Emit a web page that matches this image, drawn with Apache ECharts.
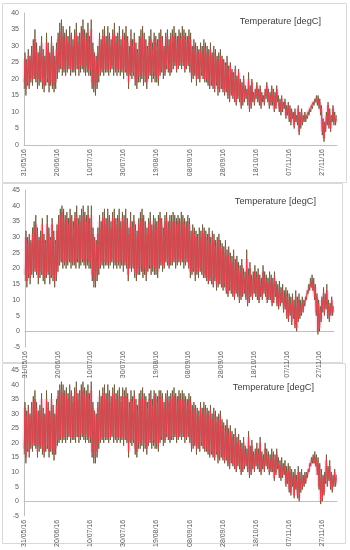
<!DOCTYPE html>
<html><head><meta charset="utf-8">
<script src="https://cdn.jsdelivr.net/npm/echarts@6/dist/echarts.min.js"></script>
<style>html,body{margin:0;padding:0;background:#fff}#c{width:350px;height:550px}</style>
</head><body><div id="c"></div>
<script>
// Day index 0 = 31/05/16; daily maximum / minimum temperatures [degC]
const startDate = [2016, 4, 31];
const xTicks = [0,20,40,60,80,100,120,140,160,180];
const titleText = 'Temperature [degC]';

// Panel 1 (observed, dark)
const p1Max = [28,26,29,27,30,32,35,31,28,30, 33,29,27,34,31,28,33,30,27,31, 34,37,38,36,34,35,33,36,34,32, 35,37,33,34,36,38,35,34,37,33, 38,31,28,27,30,34,32,35,36,33, 36,34,32,35,37,33,34,36,32,35, 34,36,33,30,35,32,34,31,29,33, 35,36,34,32,30,33,35,31,34,33, 32,34,35,33,30,34,35,32,34,35, 36,34,33,35,34,36,35,34,33,35, 34,30,32,31,30,29,31,30,32,31, 30,29,31,28,30,29,27,28,29,27, 26,25,27,24,25,23,22,24,21,23, 20,19,21,18,17,22,18,20,16,17, 19,17,18,16,15,17,19,17,16,18, 17,16,18,15,14,15,13,14,12,13, 12,11,10,11,9,12,10,11,9,10, 9,10,11,12,13,14,15,15,14,12, 8,7,10,13,11,9,12,10,9];
const p1Min = [17,15,18,17,19,18,20,19,17,18, 19,17,16,18,19,16,18,17,16,17, 20,22,23,21,22,21,22,23,21,22, 22,21,23,21,22,23,22,21,22,21, 21,17,16,15,17,19,21,22,21,22, 22,21,22,23,21,22,21,22,21,22, 20,22,21,17,21,20,21,18,17,19, 19,20,18,19,17,20,21,19,20,19, 19,18,21,22,20,21,23,22,21,22, 23,24,22,23,24,23,24,22,23,24, 22,19,20,21,18,20,19,21,20,19, 19,18,17,18,17,16,18,15,16,17, 16,15,16,14,13,15,14,13,12,14, 13,11,12,13,14,12,10,11,13,12, 14,13,12,11,13,12,14,13,11,12, 12,10,11,13,10,9,10,11,8,9, 7,6,8,5,7,6,3,5,6,7, 7,8,9,10,11,12,13,12,11,9, 3,1,4,6,5,4,7,6,6];
// Panel 1 (model, red)
const p1SimMax = [26,25,27,26,28,30,32,29,27,28, 31,27,26,31,29,27,31,28,26,29, 32,34,35,33,32,33,31,33,32,30, 33,34,31,32,34,35,33,32,34,31, 35,29,27,26,28,32,30,33,33,31, 33,32,30,33,34,31,32,33,30,33, 32,33,31,28,32,30,32,29,28,31, 32,33,32,30,29,31,32,29,32,31, 30,32,33,31,29,32,33,30,32,33, 33,32,31,33,32,33,33,32,31,33, 32,29,30,29,28,28,29,28,30,29, 28,27,29,27,28,27,26,26,27,26, 25,24,25,23,24,22,21,23,20,22, 19,18,20,17,16,20,17,19,15,16, 18,16,17,15,14,16,18,16,15,17, 16,15,17,14,13,14,12,13,11,12, 11,10,9,10,8,11,9,10,8,9, 9,10,11,12,13,13,14,14,13,11, 7,7,9,12,10,9,11,9,8];
const p1SimMin = [19,17,19,18,20,20,21,20,19,20, 20,19,18,19,20,18,19,19,18,19, 22,23,24,23,23,23,24,24,23,23, 23,23,24,23,24,24,23,23,24,23, 23,19,18,17,19,21,22,23,23,23, 23,23,23,24,23,23,23,23,23,23, 22,23,22,19,22,22,22,20,19,21, 21,22,20,21,19,21,22,21,22,21, 21,20,22,23,22,22,24,23,22,23, 24,25,23,24,25,24,25,23,24,25, 23,21,21,22,20,21,20,22,21,20, 20,19,18,19,18,17,19,17,17,18, 17,16,17,15,14,16,15,14,13,15, 14,12,13,14,15,13,11,12,14,13, 15,14,13,12,14,13,15,14,12,13, 13,11,12,14,11,10,11,12,9,10, 8,7,9,6,8,7,4,6,7,8, 8,9,10,11,12,13,13,13,12,10, 4,2,5,7,6,5,8,7,7];

// Panel 2
const p2Max = [32,30,31,29,33,35,37,33,30,32, 36,31,29,37,33,30,36,32,29,34, 37,39,40,39,37,38,36,39,37,35, 38,40,36,37,39,40,38,37,40,36, 40,33,30,29,33,37,35,38,39,36, 39,37,35,38,39,36,37,39,35,38, 37,39,36,33,38,35,37,34,32,36, 38,39,37,35,33,36,38,34,37,36, 35,37,38,36,33,37,38,35,37,37, 38,37,36,37,36,38,37,36,35,37, 36,32,34,33,32,31,33,32,34,33, 32,31,33,30,32,31,29,30,31,29, 28,27,29,26,27,25,24,26,23,24, 22,21,23,20,19,26,20,22,18,19, 21,19,20,18,17,21,19,18,17,19, 18,17,19,16,15,16,14,15,13,14, 13,12,11,12,10,13,11,12,10,11, 10,11,13,15,17,18,17,15,12,10, 8,11,14,12,15,10,9,11,8];
const p2Min = [16,14,17,15,18,17,19,18,15,17, 18,16,15,17,18,15,17,16,14,16, 19,21,22,20,21,20,21,22,20,21, 21,20,22,20,21,22,21,20,21,20, 20,16,14,14,16,18,20,21,20,21, 21,20,21,22,20,21,20,21,20,21, 19,21,20,16,20,19,20,17,16,18, 18,19,17,18,16,19,20,18,19,18, 18,17,20,21,19,20,22,21,20,21, 21,22,20,21,22,21,22,20,21,22, 20,17,18,19,16,18,17,19,18,17, 17,16,15,16,15,14,16,13,14,15, 14,13,14,12,11,13,12,11,10,12, 11,9,10,11,12,10,8,9,11,10, 12,11,10,9,11,10,12,11,9,10, 10,8,9,11,8,7,8,9,6,7, 4,3,5,2,4,1,0,3,4,5, 6,8,10,12,13,14,13,10,5,-1, 0,3,6,5,7,4,3,5,5];
const p2SimMax = [30,28,29,28,31,33,34,31,29,30, 34,29,28,34,31,29,34,30,28,32, 35,37,38,36,35,36,34,36,35,33, 36,37,34,35,37,37,36,35,37,34, 37,31,29,28,31,35,33,36,36,34, 36,35,33,36,36,34,35,36,33,36, 35,36,34,31,35,33,35,32,30,34, 35,36,35,33,31,34,35,32,35,34, 33,35,36,34,31,35,36,33,35,35, 35,35,34,35,34,35,35,34,33,35, 34,30,32,31,30,29,31,30,32,31, 30,29,31,28,30,29,27,28,29,27, 26,25,27,24,25,23,22,24,21,22, 20,19,21,18,17,23,18,20,16,17, 19,17,18,16,15,19,17,16,15,17, 16,15,17,14,13,14,12,13,11,12, 11,10,9,10,8,11,9,10,8,9, 9,10,12,14,15,16,15,14,11,9, 7,10,12,11,13,9,8,10,7];
const p2SimMin = [18,16,18,17,19,19,20,19,17,19, 19,18,17,18,19,17,18,18,16,18, 21,22,23,22,22,22,23,23,22,22, 22,22,23,22,23,23,22,22,23,22, 22,18,16,16,18,20,21,22,22,22, 22,22,22,23,22,22,22,22,22,22, 21,22,21,18,21,21,21,19,18,20, 20,21,19,20,18,20,21,20,21,20, 20,19,21,22,21,21,23,22,21,22, 22,23,22,22,23,22,23,22,22,23, 21,19,19,20,18,19,19,20,19,18, 18,17,16,17,16,15,17,15,15,16, 15,14,15,13,12,14,13,12,11,13, 12,10,11,12,13,11,9,10,12,11, 13,12,11,10,12,11,13,12,10,11, 11,9,10,12,9,8,9,10,7,8, 5,4,6,3,5,2,1,4,5,6, 7,9,11,13,14,14,13,11,6,0, 1,4,7,6,8,5,4,6,6];

// Panel 3
const p3Max = [34,31,33,30,34,36,38,34,31,33, 37,32,30,38,34,31,37,33,30,35, 38,40,41,40,38,39,37,40,38,36, 39,41,37,38,40,41,39,38,40,37, 41,34,31,30,34,38,36,39,40,37, 40,38,36,39,40,37,38,39,36,39, 38,39,37,34,38,36,38,35,33,37, 38,39,37,36,34,37,38,35,38,37, 36,38,38,37,34,37,38,36,37,38, 39,37,36,38,37,38,37,36,35,37, 36,33,34,33,32,31,34,32,34,33, 32,31,33,30,32,31,29,30,31,28, 27,26,28,25,26,24,23,25,22,23, 21,20,22,19,18,24,19,21,17,18, 20,18,22,17,16,20,18,17,16,18, 17,16,18,15,14,15,13,14,12,13, 12,11,10,11,9,12,10,11,9,10, 10,11,13,15,16,17,16,15,13,11, 9,10,16,12,14,10,9,11,9];
const p3Min = [16,13,17,15,18,17,19,18,15,17, 18,16,15,17,18,15,17,16,14,16, 19,20,21,20,21,20,21,22,20,21, 21,20,22,20,21,22,21,20,21,20, 20,15,13,13,15,18,20,21,20,21, 21,20,21,22,20,21,20,21,20,21, 19,21,20,15,20,19,20,16,15,18, 18,19,17,18,16,19,20,18,19,18, 18,17,20,21,19,20,22,21,20,21, 21,22,20,21,22,21,22,20,21,22, 20,17,18,19,16,18,17,19,18,17, 17,16,15,16,15,14,16,13,14,15, 14,13,14,12,11,13,12,11,10,12, 11,9,10,11,12,10,8,9,11,10, 12,11,10,9,11,10,12,11,9,10, 10,7,9,11,8,7,8,9,5,6, 3,2,5,1,4,1,0,3,4,5, 6,8,10,12,13,13,12,9,4,-1, 0,2,6,5,7,4,3,5,5];
const p3SimMax = [32,29,31,29,32,34,35,32,30,31, 35,30,29,35,32,30,35,31,29,33, 36,38,38,37,36,37,35,37,36,34, 37,38,35,36,38,38,37,36,37,35, 38,32,30,29,32,36,34,37,37,35, 37,36,34,37,37,35,36,36,34,36, 36,36,35,32,35,34,36,33,31,35, 35,36,35,34,32,35,35,33,36,35, 34,36,36,35,32,35,36,34,35,36, 36,35,34,36,35,35,35,34,33,35, 34,31,32,31,30,29,32,30,32,31, 30,29,31,28,30,29,27,28,29,26, 25,24,26,23,24,22,21,23,20,21, 19,18,20,17,16,22,17,19,15,16, 18,16,20,15,14,18,16,15,14,16, 15,14,16,13,12,13,11,12,10,11, 10,9,8,9,7,10,8,9,7,8, 9,10,12,14,15,15,14,13,11,9, 8,9,14,11,12,9,8,10,8];
const p3SimMin = [18,15,18,17,19,19,20,19,17,19, 19,18,17,18,19,17,18,18,16,18, 21,21,22,22,22,22,23,23,22,22, 22,22,23,22,23,23,22,22,23,22, 22,17,15,15,17,20,21,22,22,22, 22,22,22,23,22,22,22,22,22,22, 21,22,21,17,21,21,21,18,17,20, 20,21,19,20,18,20,21,20,21,20, 20,19,21,22,21,21,23,22,21,22, 22,23,22,22,23,22,23,22,22,23, 21,19,19,20,18,19,19,20,19,18, 18,17,16,17,16,15,17,15,15,16, 15,14,15,13,12,14,13,12,11,13, 12,10,11,12,13,11,9,10,12,11, 13,12,11,10,12,11,13,12,10,11, 11,8,10,12,9,8,9,10,6,7, 4,3,6,2,5,2,1,4,5,6, 7,9,11,13,14,13,12,9,5,0, 1,3,7,6,8,5,4,6,6];

function zig(mx, mn){
  const out = [];
  for (let d = 0; d < mx.length; d++){
    out.push([d + 0.15, mn[d]]);
    out.push([d + 0.6, mx[d]]);
  }
  return out;
}
function fmtDate(v){
  const dt = new Date(startDate[0], startDate[1], startDate[2] + Math.round(v));
  const p = n => (n < 10 ? '0' : '') + n;
  return p(dt.getDate()) + '/' + p(dt.getMonth() + 1) + '/' + String(dt.getFullYear()).slice(2);
}

const panels = [
  {obs:[p1Max,p1Min], sim:[p1SimMax,p1SimMin], grid:{left:24, top:13, width:313, height:132}, y:[0,40], title:{right:24, top:12}},
  {obs:[p2Max,p2Min], sim:[p2SimMax,p2SimMin], grid:{left:25, top:190, width:309, height:157}, y:[-5,45], title:{right:29, top:192}},
  {obs:[p3Max,p3Min], sim:[p3SimMax,p3SimMin], grid:{left:24, top:370, width:313, height:153}, y:[-5,45], title:{right:31, top:378}}
];

const grid = [], xAxis = [], yAxis = [], series = [], title = [];
panels.forEach((p, i) => {
  grid.push(Object.assign({containLabel:false}, p.grid));
  xAxis.push({type:'value', gridIndex:i, min:0, max:189, interval:20,
    axisLine:{onZero:true, lineStyle:{color:'#bfbfbf', width:1}}, axisTick:{show:false}, splitLine:{show:false},
    axisLabel:{rotate:90, fontSize:7, color:'#595959', fontFamily:'Liberation Sans, Arial', margin:4,
      formatter:v => xTicks.indexOf(v) >= 0 ? fmtDate(v) : '', showMaxLabel:false}});
  yAxis.push({type:'value', gridIndex:i, min:p.y[0], max:p.y[1], interval:5,
    axisLine:{show:true, lineStyle:{color:'#bfbfbf', width:1}}, axisTick:{show:false}, splitLine:{show:false},
    axisLabel:{fontSize:7, color:'#595959', fontFamily:'Liberation Sans, Arial', margin:5}});
  const sim = zig(p.sim[0], p.sim[1]);
  const obs = zig(p.obs[0], p.obs[1]);
  series.push({type:'line', xAxisIndex:i, yAxisIndex:i, data:sim, symbol:'none', silent:true, animation:false,
    lineStyle:{color:'rgba(255,150,200,0.35)', width:4}, z:1});
  series.push({type:'line', xAxisIndex:i, yAxisIndex:i, data:obs, symbol:'none', silent:true, animation:false,
    lineStyle:{color:'#6f5b3c', width:0.9}, z:2});
  series.push({type:'line', xAxisIndex:i, yAxisIndex:i, data:sim, symbol:'none', silent:true, animation:false,
    lineStyle:{color:'#e6404e', width:0.9, opacity:0.9}, z:3});
  title.push({text:titleText, right:p.title.right, top:p.title.top,
    textStyle:{fontSize:9.2, fontWeight:'normal', color:'#404040', fontFamily:'Liberation Sans, Arial'}});
});

const chart = echarts.init(document.getElementById('c'), null, {renderer:'canvas'});
chart.setOption({
  animation:false,
  title, grid, xAxis, yAxis, series,
  graphic:[
    {type:'rect', shape:{x:2.5, y:3.5, width:344, height:179}, style:{fill:'none', stroke:'#d9d9d9', lineWidth:1}, z:-1},
    {type:'rect', shape:{x:2.5, y:183.5, width:340, height:179}, style:{fill:'none', stroke:'#d9d9d9', lineWidth:1}, z:-1},
    {type:'rect', shape:{x:2.5, y:363.5, width:343, height:180}, style:{fill:'none', stroke:'#d9d9d9', lineWidth:1}, z:-1}
  ]
});
</script></body></html>
